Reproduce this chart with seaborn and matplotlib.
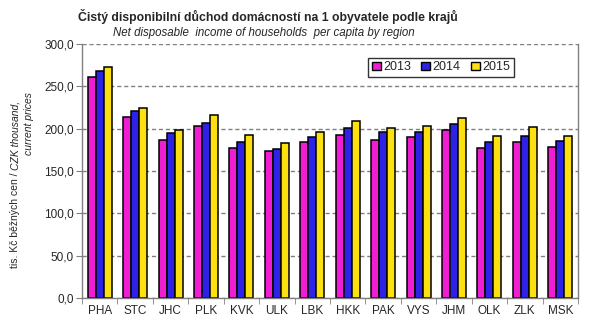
import matplotlib
matplotlib.use("Agg")
import matplotlib.pyplot as plt
import seaborn as sns
import pandas as pd
from matplotlib.patches import Patch
from matplotlib.ticker import FuncFormatter, MultipleLocator

regions = ["PHA", "STC", "JHC", "PLK", "KVK", "ULK", "LBK", "HKK", "PAK", "VYS", "JHM", "OLK", "ZLK", "MSK"]
years = ["2013", "2014", "2015"]
v2013 = [260.7, 213.4, 186.2, 202.8, 176.8, 173.2, 183.9, 192.1, 186.2, 189.8, 198.0, 176.8, 183.9, 178.0]
v2014 = [267.7, 220.5, 194.5, 206.3, 183.9, 175.6, 189.8, 200.4, 195.7, 195.7, 205.1, 183.9, 191.0, 185.1]
v2015 = [272.5, 224.0, 198.0, 215.8, 192.1, 182.7, 195.7, 208.7, 200.4, 202.8, 212.2, 191.0, 201.6, 191.0]
colors = ["#F01ED2", "#2D22E6", "#FCE010"]

df = pd.DataFrame({
    "region": regions * 3,
    "year": [y for y in years for _ in regions],
    "value": v2013 + v2014 + v2015,
})

sns.set_style("white")
plt.rcParams["font.family"] = ["Liberation Sans", "DejaVu Sans"]

fig = plt.figure(figsize=(6.01, 3.24), dpi=100)
ax = fig.add_axes([82/601, 26/324, 496/601, 254/324])

sns.barplot(data=df, x="region", y="value", hue="year", palette=colors,
            width=0.68, edgecolor="black", linewidth=1.1, saturation=1,
            legend=False, ax=ax)

ax.set_ylim(0, 300)
ax.set_xlim(-0.5, len(regions) - 0.5)
ax.yaxis.set_major_locator(MultipleLocator(50))
ax.yaxis.set_major_formatter(FuncFormatter(lambda v, p: f"{v:.1f}".replace(".", ",")))
ax.grid(axis="y", color="#808080", linestyle=(0, (3, 2)), linewidth=1.0)
ax.set_axisbelow(True)

for s in ["left", "bottom", "right"]:
    ax.spines[s].set_color("#808080")
    ax.spines[s].set_linewidth(1.0)
ax.spines["top"].set_visible(False)

ax.set_xlabel("")
ax.set_ylabel("")
ax.tick_params(axis="y", labelsize=8.5, length=4, color="#808080", direction="out", left=True, pad=2)
ax.tick_params(axis="x", which="major", labelsize=8.5, length=0, pad=5)
ax.set_xticks([i + 0.5 for i in range(-1, len(regions))], minor=True)
ax.tick_params(axis="x", which="minor", length=4, color="#808080", direction="out", bottom=True)

handles = [Patch(facecolor=c, edgecolor="black", linewidth=1.0, label=y) for c, y in zip(colors, years)]
leg = ax.legend(handles=handles, ncol=3, loc="center",
                bbox_to_anchor=(0.565, 0.866, 0.318, 0.083), bbox_transform=ax.transAxes,
                frameon=True, fancybox=False, edgecolor="black", fontsize=9,
                handlelength=0.7, handleheight=0.7, handletextpad=0.2, columnspacing=1.2,
                borderpad=0.3, mode="expand")
leg.get_frame().set_linewidth(1.0)

fig.text(268/601, 1 - 17/324, "Čistý disponibilní důchod domácností na 1 obyvatele podle krajů",
         ha="center", va="center", fontsize=8.8, fontweight="bold")
fig.text(264/601, 1 - 33/324, "Net disposable  income of households  per capita by region",
         ha="center", va="center", fontsize=8.3, style="italic")

ay = 1 - 170/324
fig.text(15/601, ay, "tis. Kč běžných cen / ", rotation=90, rotation_mode="anchor",
         ha="right", va="center", fontsize=7.5)
fig.text(15/601, ay, "CZK thousand,", rotation=90, rotation_mode="anchor",
         ha="left", va="center", fontsize=7.5, style="italic")
fig.text(29/601, 1 - 124/324, "current prices", rotation=90, rotation_mode="anchor",
         ha="center", va="center", fontsize=7.5, style="italic")

fig.savefig("out.png", dpi=100)
